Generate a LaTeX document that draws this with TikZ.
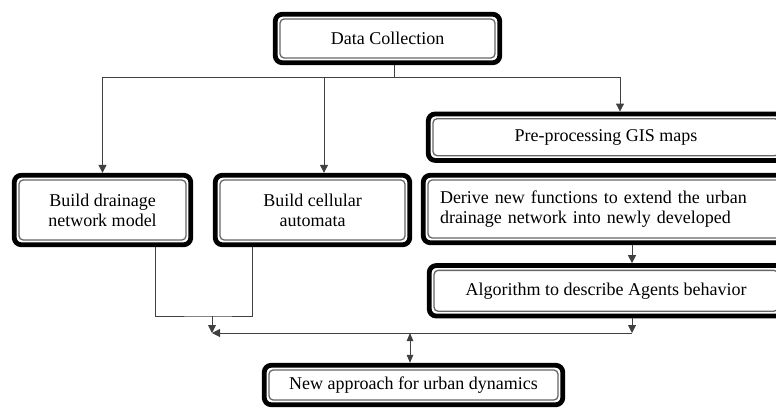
\documentclass[tikz,border=0pt]{standalone}
\usepackage{fontspec}
\setmainfont{Liberation Serif}
\usetikzlibrary{positioning, arrows.meta, calc}

\begin{document}
\begin{tikzpicture}[
    x=1pt, y=-1pt,
    font=\fontsize{18}{20}\selectfont,
    box/.style={
        rectangle, rounded corners=7pt,
        draw=black, line width=4.8pt, fill=white,
        align=center, inner sep=0pt,
        path picture={
            \draw[draw=black!60, line width=1.3pt, rounded corners=4pt]
                ([shift={(4.8pt,4.8pt)}]path picture bounding box.south west)
                rectangle
                ([shift={(-4.8pt,-4.8pt)}]path picture bounding box.north east);
        },
    },
    link/.style={draw=black!75, line width=1pt},
    flow/.style={link, -{Triangle[length=8pt, width=8pt]}},
    both/.style={link, {Triangle[length=8pt, width=6.5pt]}-{Triangle[length=8pt, width=6.5pt]}},
]

% --- Frame (right column runs past the edge) ---
\useasboundingbox (0,0) rectangle (776,409);
\clip (0,0) rectangle (776,409);

% --- Top and left boxes ---
\node[box, minimum width=224.5pt, minimum height=48.5pt] (collect) at (387.5,38.5) {Data Collection};
\node[box, minimum width=176.5pt, minimum height=69.5pt] (drain) at (102.5,210) {Build drainage\\network model};
\node[box, minimum width=194.5pt, minimum height=69.5pt] (cell) at (312.5,210) {Build cellular\\automata};

% --- Right column, stacked ---
\node[box, text width=332pt, inner xsep=16.75pt, minimum height=67.5pt, align=left] (derive) at (606,209)
    {Derive new functions to extend the urban\\drainage network into newly developed};
\node[box, minimum width=355.5pt, minimum height=46.5pt, above=10pt of derive] (gis) {Pre-processing GIS maps};
\node[box, minimum width=353.5pt, minimum height=50.5pt, below=18pt of derive] (agents) {Algorithm to describe Agents behavior};

% --- Result ---
\node[box, minimum width=298.5pt, minimum height=39.5pt] (result) at (413.5,385) {New approach for urban dynamics};

% --- Junction points ---
\coordinate (fork)   at (394,78);
\coordinate (join)   at (212,316);
\coordinate (merge)  at (212,333);
\coordinate (corner) at (632,333);
\coordinate (hub)    at (410,333);

% --- Split from data collection ---
\draw[link] (fork |- collect.south) -- (fork);
\draw[flow] (fork) -| (drain.north);
\draw[flow] (fork) -| ([xshift=11.5pt]cell.north);
\draw[flow] (fork) -| ([xshift=14pt]gis.north);

% --- Right column chain ---
\draw[flow] ([xshift=26pt]derive.south) -- ([xshift=26pt]agents.north);
\draw[flow] ([xshift=26pt]agents.south) -- (corner);
\draw[flow] (corner) -- (merge);

% --- Left boxes joined ---
\draw[link] ([xshift=52.5pt]drain.south) |- (join) -| ([xshift=-60.5pt]cell.south);
\draw[flow] (join) -- (merge);

% --- Two-way link to result ---
\draw[both] (hub) -- (hub |- result.north);

\end{tikzpicture}
\end{document}
